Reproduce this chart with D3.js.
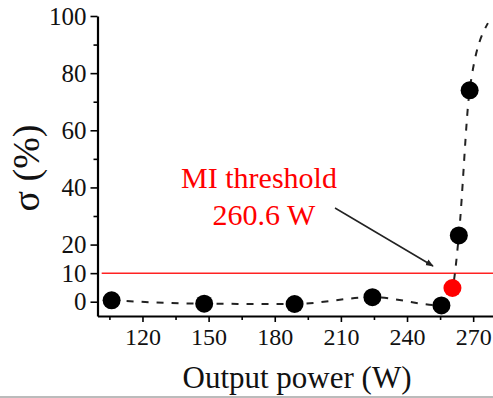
<!DOCTYPE html>
<html>
<head>
<meta charset="utf-8">
<script src="https://cdn.jsdelivr.net/npm/d3@7"></script>
<style>
  html, body { margin: 0; padding: 0; background: #fff; }
  svg { display: block; }
  text { font-family: "Liberation Serif", "Times New Roman", serif; }
</style>
</head>
<body>
<svg id="chart" width="493" height="398"></svg>
<script>
// ---- data ----
const power = [106, 148, 189, 224.3, 255.6, 260.6, 263.5, 268.4];   // W
const sigma = [0.5, -0.7, -0.8, 1.6, -1.3, 4.8, 23.2, 74.0];       // %
const thresholdPower = 260.6;   // MI threshold (red point)
const thresholdSigma = 10;      // red horizontal line
const trendTailPower = [276.7]; // dashed trend continues past last point
const trendTailSigma = [97.5];
const xTicks = [120, 150, 180, 210, 240, 270];
const xMinorTicks = [105, 135, 165, 195, 225, 255];
const yTicks = [0, 10, 20, 40, 60, 80, 100];
const yMinorTicks = [30, 50, 70, 90];
const annotationLines = ["MI threshold", "260.6 W"];
const xTitle = "Output power (W)";
const yTitle = "σ (%)";

// ---- chart ----
const W = 493, H = 398;
const svg = d3.select("#chart");
const mLeft = 97.5, mRight = 493, mTop = 16, mBottom = 316;

const x = d3.scaleLinear().domain([99.6, 279]).range([mLeft, mRight]);
const y = d3.scaleLinear().domain([-5, 100]).range([mBottom, mTop]);

const defs = svg.append("defs");
defs.append("clipPath").attr("id", "plotclip")
  .append("rect").attr("x", mLeft).attr("y", 0).attr("width", mRight - mLeft).attr("height", mBottom);

defs.append("marker")
  .attr("id", "arrowhead").attr("viewBox", "0 0 10 10")
  .attr("refX", 9).attr("refY", 5).attr("markerWidth", 8).attr("markerHeight", 8)
  .attr("markerUnits", "userSpaceOnUse")
  .attr("orient", "auto")
  .append("path").attr("d", "M0,1 L10,5 L0,9 Z").attr("fill", "#222");

// threshold line
svg.append("line")
  .attr("x1", x(101.5)).attr("x2", mRight)
  .attr("y1", y(thresholdSigma)).attr("y2", y(thresholdSigma))
  .attr("stroke", "#f22").attr("stroke-width", 1.5);

// dashed trend line
const pts = power.map((p, i) => [p, sigma[i]])
  .concat(trendTailPower.map((p, i) => [p, trendTailSigma[i]]));
svg.append("path")
  .attr("clip-path", "url(#plotclip)")
  .attr("d", d3.line().x(d => x(d[0])).y(d => y(d[1])).curve(d3.curveMonotoneX)(pts))
  .attr("fill", "none").attr("stroke", "#222").attr("stroke-width", 2)
  .attr("stroke-dasharray", "7,8");

// points
svg.append("g").selectAll("circle")
  .data(power.map((p, i) => ({p, s: sigma[i]})))
  .join("circle")
  .attr("cx", d => x(d.p)).attr("cy", d => y(d.s)).attr("r", 9)
  .attr("fill", d => d.p === thresholdPower ? "#ff0000" : "#000");

// axes
const xAxis = svg.append("g").attr("transform", `translate(0,${mBottom})`)
  .call(d3.axisBottom(x).tickValues(xTicks).tickSize(6).tickSizeOuter(0).tickPadding(6));
svg.append("g").attr("transform", `translate(0,${mBottom})`)
  .call(d3.axisBottom(x).tickValues(xMinorTicks).tickSize(4).tickFormat("").tickSizeOuter(0))
  .call(g => g.select(".domain").remove());
const yAxis = svg.append("g").attr("transform", `translate(${mLeft},0)`)
  .call(d3.axisLeft(y).tickValues(yTicks).tickSize(7).tickSizeOuter(0).tickPadding(4));
svg.append("g").attr("transform", `translate(${mLeft},0)`)
  .call(d3.axisLeft(y).tickValues(yMinorTicks).tickSize(4).tickFormat("").tickSizeOuter(0))
  .call(g => g.select(".domain").remove());

svg.selectAll(".domain").attr("stroke", "#000").attr("stroke-width", 2.2);
svg.selectAll(".tick line").attr("stroke", "#000").attr("stroke-width", 1.6);
xAxis.selectAll(".tick text").attr("font-size", 24).attr("fill", "#111")
  .attr("font-family", "Liberation Serif");
yAxis.selectAll(".tick text").attr("font-size", 25).attr("fill", "#111")
  .attr("font-family", "Liberation Serif");

// axis titles
svg.append("text").attr("x", 297).attr("y", 388).attr("text-anchor", "middle")
  .attr("font-size", 31).attr("fill", "#111").text(xTitle);
svg.append("text").attr("transform", "translate(39,168) rotate(-90)")
  .attr("text-anchor", "middle").attr("font-size", 38).attr("fill", "#111").text(yTitle);

// annotation
svg.append("text").attr("x", 259).attr("y", 188).attr("text-anchor", "middle")
  .attr("font-size", 30).attr("fill", "#ff0000").text(annotationLines[0]);
svg.append("text").attr("x", 264).attr("y", 225).attr("text-anchor", "middle")
  .attr("font-size", 30).attr("fill", "#ff0000").text(annotationLines[1]);
svg.append("line")
  .attr("x1", 335).attr("y1", 208).attr("x2", 433).attr("y2", 266)
  .attr("stroke", "#222").attr("stroke-width", 1.5)
  .attr("marker-end", "url(#arrowhead)");

// bottom frame line of the picture
svg.append("rect").attr("x", 0).attr("y", H - 2).attr("width", W).attr("height", 2).attr("fill", "#bbb");
</script>
</body>
</html>
